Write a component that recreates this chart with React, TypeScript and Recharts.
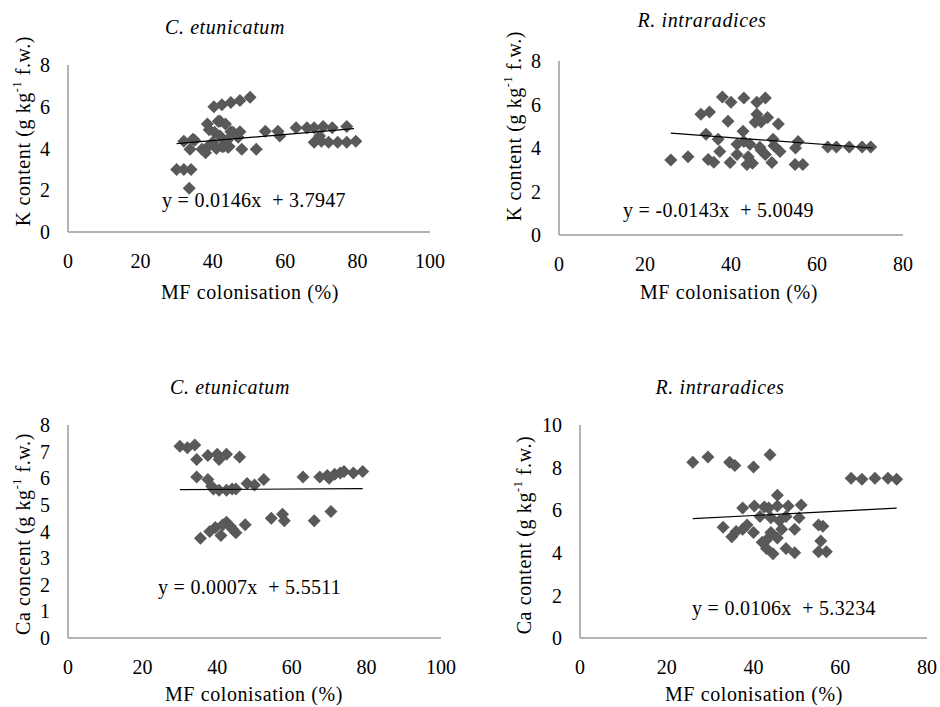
import React from 'react';
import { ScatterChart, Scatter, XAxis, YAxis } from 'recharts';

const FONT = '"Liberation Serif", "Times New Roman", serif';
const MARKER = '#595959';
const AXIS = '#9a9a9a';

// Panel 1: K content, C. etunicatum
const kCeX = [30, 32, 34, 33.5, 32, 34.5, 35, 33.7, 37, 38, 38.5, 39, 40, 40.5, 41, 41.5, 42, 42, 43, 43.5, 44, 44.5, 45, 45.6, 47, 47.5, 48, 52, 54.5, 58, 58.5, 63, 66, 68, 70.5, 73, 77, 68, 70, 72, 74.5, 77, 79.5, 69.5, 40.3, 42.5, 45, 47.5, 50.3, 38.7, 42.5, 44.2];
const kCeY = [3.0, 3.0, 3.0, 2.1, 4.35, 4.44, 4.4, 3.96, 3.96, 3.8, 5.17, 4.9, 4.3, 4.78, 4.0, 5.3, 4.6, 5.3, 4.1, 5.17, 4.4, 4.1, 4.8, 4.78, 4.54, 4.8, 3.96, 3.96, 4.83, 4.83, 4.6, 5.0, 5.0, 5.0, 5.05, 5.0, 5.05, 4.3, 4.35, 4.3, 4.3, 4.3, 4.35, 4.6, 6.0, 6.1, 6.2, 6.3, 6.45, 4.1, 4.1, 4.06];
const kCeTrendX = [30, 79];
const kCeTrendY = [4.23, 4.95];

// Panel 2: K content, R. intraradices
const kRiX = [26, 30, 33, 35, 34.7, 36, 34.2, 37, 38, 40, 39.3, 39.8, 37.4, 41.4, 41.4, 42.8, 43, 43, 43.7, 44, 45, 44.4, 45.6, 46, 46, 47, 46.7, 47, 48, 48.5, 48, 49.8, 49.5, 51.4, 51, 50, 54.9, 56.7, 55, 55.6, 62.5, 64.5, 67.5, 70.5, 72.5];
const kRiY = [3.45, 3.6, 5.55, 5.65, 3.47, 3.35, 4.63, 4.4, 6.35, 6.1, 5.23, 3.33, 3.84, 4.17, 3.7, 4.77, 6.3, 4.3, 3.24, 3.6, 3.3, 4.17, 5.18, 6.1, 5.55, 5.2, 4.03, 3.9, 6.3, 5.4, 3.7, 4.4, 3.33, 3.84, 5.1, 4.1, 3.24, 3.24, 4.0, 4.3, 4.05, 4.05, 4.05, 4.05, 4.05];
const kRiTrendX = [26, 73];
const kRiTrendY = [4.68, 4.0];

// Panel 3: Ca concent, C. etunicatum
const caCeX = [30, 32, 34, 34.5, 34.5, 37.5, 40, 40.5, 42.5, 46, 37.5, 38.5, 40.5, 42.5, 45, 48, 50, 52.5, 39, 44, 63, 67.5, 69.5, 71.5, 74, 76.5, 79, 70, 73, 54.5, 57.5, 58, 66, 70.5, 35.5, 38, 39.5, 41, 42.5, 44, 45, 47.5, 41.5, 43.5];
const caCeY = [7.2, 7.15, 7.25, 6.7, 6.05, 6.85, 6.9, 6.7, 6.9, 6.8, 5.95, 5.7, 5.55, 5.55, 5.6, 5.8, 5.75, 5.95, 5.6, 5.6, 6.05, 6.05, 6.1, 6.15, 6.25, 6.2, 6.25, 6.0, 6.2, 4.5, 4.65, 4.4, 4.4, 4.75, 3.75, 4.0, 4.15, 3.85, 4.35, 4.1, 3.95, 4.25, 4.25, 4.2];
const caCeTrendX = [30, 79];
const caCeTrendY = [5.57, 5.61];

// Panel 4: Ca content, R. intraradices
const caRiX = [26, 29.5, 34.5, 35.7, 40, 43.8, 62.5, 65, 68, 71, 73, 45.5, 37.5, 40.2, 42.5, 43.5, 45.5, 48, 51, 44, 46, 50.5, 41.5, 47.5, 33, 35, 37.5, 40, 42, 44, 46.5, 49.5, 55, 56, 43, 55.5, 43, 44.5, 47.5, 49.5, 55, 56.8, 36, 38.5, 45.5];
const caRiY = [8.25, 8.5, 8.25, 8.1, 8.03, 8.6, 7.5, 7.45, 7.5, 7.5, 7.45, 6.7, 6.1, 6.2, 6.15, 6.1, 6.2, 6.2, 6.25, 5.65, 5.5, 5.65, 5.7, 5.7, 5.2, 4.75, 5.1, 4.95, 4.5, 4.95, 5.1, 5.1, 5.3, 5.25, 4.6, 4.55, 4.2, 3.95, 4.2, 4.0, 4.05, 4.05, 5.0, 5.3, 4.7];
const caRiTrendX = [26, 73];
const caRiTrendY = [5.6, 6.1];

const xTicks100 = [0, 20, 40, 60, 80, 100];
const xTicks80 = [0, 20, 40, 60, 80];
const yTicks8 = [0, 2, 4, 6, 8];
const yTicks8b = [0, 1, 2, 3, 4, 5, 6, 7, 8];
const yTicks10 = [0, 2, 4, 6, 8, 10];

const zip = (xs: number[], ys: number[]) => xs.map((x, i) => ({ x, y: ys[i] }));

const Diamond = (props: any) => {
  const { cx, cy } = props;
  if (cx == null || cy == null) return <g />;
  const r = 6.5;
  return <path d={`M${cx},${cy - r}L${cx + r},${cy}L${cx},${cy + r}L${cx - r},${cy}Z`} fill={MARKER} />;
};
const NoShape = () => <g />;

type PanelProps = {
  left: number; top: number; width: number; height: number;
  margin: { top: number; right: number; bottom: number; left: number };
  xMax: number; xTicks: number[]; yMax: number; yTicks: number[];
  points: { x: number; y: number }[]; trend: { x: number; y: number }[];
};

const tickStyle = { fill: '#000', fontSize: 20, fontFamily: FONT };

const Panel = (p: PanelProps) => (
  <div style={{ position: 'absolute', left: p.left, top: p.top }}>
    <ScatterChart width={p.width} height={p.height} margin={p.margin} style={{ fontFamily: FONT }}>
      <XAxis type="number" dataKey="x" domain={[0, p.xMax]} ticks={p.xTicks} interval={0}
        allowDataOverflow tickLine={false} tickSize={0} tickMargin={22} height={50}
        axisLine={{ stroke: AXIS, strokeWidth: 1.5 }} tick={tickStyle} />
      <YAxis type="number" dataKey="y" domain={[0, p.yMax]} ticks={p.yTicks} interval={0}
        allowDataOverflow tickLine={false} tickSize={0} tickMargin={18} width={50}
        axisLine={{ stroke: AXIS, strokeWidth: 1.5 }} tick={tickStyle} />
      <Scatter data={p.points} shape={Diamond} isAnimationActive={false} />
      <Scatter data={p.trend} shape={NoShape} line={{ stroke: '#000', strokeWidth: 1.2 }} isAnimationActive={false} />
    </ScatterChart>
  </div>
);

const baseText: React.CSSProperties = {
  position: 'absolute', fontFamily: FONT, fontSize: 20, color: '#000', whiteSpace: 'pre', lineHeight: 1, letterSpacing: 0.6,
};

const Center = ({ x, y, children, italic, rotate }: any) => (
  <div style={{ ...baseText, left: x, top: y, fontStyle: italic ? 'italic' : 'normal',
    transform: `translate(-50%, -50%)${rotate ? ' rotate(-90deg)' : ''}` }}>{children}</div>
);

const LeftText = ({ x, y, children }: any) => (
  <div style={{ ...baseText, left: x, top: y, transform: 'translateY(-50%)', letterSpacing: 0.3 }}>{children}</div>
);

const Sup = ({ children }: any) => <sup style={{ fontSize: '0.6em', verticalAlign: '0.7em' }}>{children}</sup>;

export default function App() {
  return (
    <div style={{ position: 'absolute', left: 0, top: 0, width: 940, height: 707, background: '#fff', overflow: 'hidden' }}>
      <Panel left={0} top={0} width={470} height={310} margin={{ top: 65, right: 40, bottom: 28, left: 18 }}
        xMax={100} xTicks={xTicks100} yMax={8} yTicks={yTicks8} points={zip(kCeX, kCeY)} trend={zip(kCeTrendX, kCeTrendY)} />
      <Panel left={470} top={0} width={470} height={310} margin={{ top: 61, right: 37, bottom: 25, left: 39 }}
        xMax={80} xTicks={xTicks80} yMax={8} yTicks={yTicks8} points={zip(kRiX, kRiY)} trend={zip(kRiTrendX, kRiTrendY)} />
      <Panel left={0} top={370} width={470} height={337} margin={{ top: 55, right: 29, bottom: 19, left: 18 }}
        xMax={100} xTicks={xTicks100} yMax={8} yTicks={yTicks8b} points={zip(caCeX, caCeY)} trend={zip(caCeTrendX, caCeTrendY)} />
      <Panel left={470} top={370} width={470} height={337} margin={{ top: 55, right: 13, bottom: 19, left: 60 }}
        xMax={80} xTicks={xTicks80} yMax={10} yTicks={yTicks10} points={zip(caRiX, caRiY)} trend={zip(caRiTrendX, caRiTrendY)} />

      <Center x={225} y={27} italic>C. etunicatum</Center>
      <Center x={22} y={131} rotate>K content (g kg<Sup>-1</Sup> f.w.)</Center>
      <Center x={250} y={292}>MF colonisation (%)</Center>
      <LeftText x={162} y={200}>y = 0.0146x  + 3.7947</LeftText>

      <Center x={702} y={20} italic>R. intraradices</Center>
      <Center x={513} y={126} rotate>K content (g kg<Sup>-1</Sup> f.w.)</Center>
      <Center x={729} y={292}>MF colonisation (%)</Center>
      <LeftText x={623} y={210}>y = -0.0143x  + 5.0049</LeftText>

      <Center x={230} y={387} italic>C. etunicatum</Center>
      <Center x={22} y={534} rotate>Ca concent (g kg<Sup>-1</Sup> f.w.)</Center>
      <Center x={254} y={694}>MF colonisation (%)</Center>
      <LeftText x={158} y={587}>y = 0.0007x  + 5.5511</LeftText>

      <Center x={720} y={387} italic>R. intraradices</Center>
      <Center x={523} y={535} rotate>Ca content (g kg<Sup>-1</Sup> f.w.)</Center>
      <Center x={754} y={694}>MF colonisation (%)</Center>
      <LeftText x={692} y={608}>y = 0.0106x  + 5.3234</LeftText>
    </div>
  );
}
